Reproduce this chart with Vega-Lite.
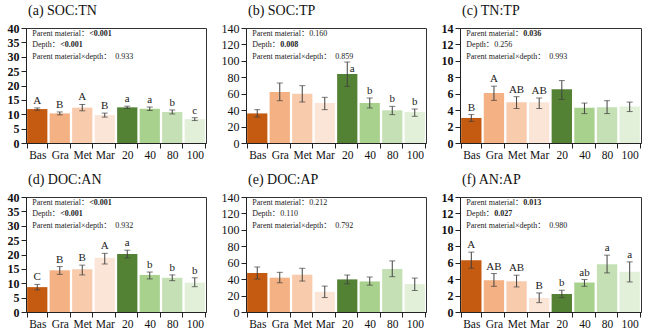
{
  "$schema": "https://vega.github.io/schema/vega-lite/v6.json",
  "background": "white",
  "padding": {"left": 6, "top": 3, "right": 5, "bottom": 5},
  "datasets": {
    "bars": [
      {"panel": "a", "group": "Bas", "mean": 11.8, "lo": 11.4, "hi": 12.2, "letter": "A"},
      {"panel": "a", "group": "Gra", "mean": 10.3, "lo": 9.8, "hi": 10.8, "letter": "B"},
      {"panel": "a", "group": "Met", "mean": 12.3, "lo": 11.2, "hi": 13.4, "letter": "A"},
      {"panel": "a", "group": "Mar", "mean": 9.7, "lo": 9.0, "hi": 10.4, "letter": "B"},
      {"panel": "a", "group": "20", "mean": 12.4, "lo": 12.0, "hi": 12.8, "letter": "a"},
      {"panel": "a", "group": "40", "mean": 11.9, "lo": 11.3, "hi": 12.5, "letter": "a"},
      {"panel": "a", "group": "80", "mean": 10.8, "lo": 10.1, "hi": 11.5, "letter": "b"},
      {"panel": "a", "group": "100", "mean": 8.3, "lo": 7.8, "hi": 8.8, "letter": "c"},
      {"panel": "b", "group": "Bas", "mean": 36, "lo": 31.6, "hi": 40.6, "letter": ""},
      {"panel": "b", "group": "Gra", "mean": 62, "lo": 51.5, "hi": 73, "letter": ""},
      {"panel": "b", "group": "Met", "mean": 60, "lo": 49.9, "hi": 69.8, "letter": ""},
      {"panel": "b", "group": "Mar", "mean": 48.7, "lo": 40.6, "hi": 55.6, "letter": ""},
      {"panel": "b", "group": "20", "mean": 84, "lo": 69, "hi": 98.6, "letter": "a"},
      {"panel": "b", "group": "40", "mean": 48.7, "lo": 42.6, "hi": 54.8, "letter": "b"},
      {"panel": "b", "group": "80", "mean": 39.8, "lo": 34.5, "hi": 44.6, "letter": "b"},
      {"panel": "b", "group": "100", "mean": 37.7, "lo": 32.5, "hi": 41.4, "letter": "b"},
      {"panel": "c", "group": "Bas", "mean": 3.05, "lo": 2.63, "hi": 3.46, "letter": "B"},
      {"panel": "c", "group": "Gra", "mean": 6.1, "lo": 5.19, "hi": 6.92, "letter": "A"},
      {"panel": "c", "group": "Met", "mean": 4.95, "lo": 4.2, "hi": 5.64, "letter": "AB"},
      {"panel": "c", "group": "Mar", "mean": 4.95, "lo": 4.2, "hi": 5.48, "letter": "AB"},
      {"panel": "c", "group": "20", "mean": 6.55, "lo": 5.3, "hi": 7.6, "letter": ""},
      {"panel": "c", "group": "40", "mean": 4.3, "lo": 3.58, "hi": 4.86, "letter": ""},
      {"panel": "c", "group": "80", "mean": 4.35, "lo": 3.58, "hi": 5.15, "letter": ""},
      {"panel": "c", "group": "100", "mean": 4.45, "lo": 3.83, "hi": 4.98, "letter": ""},
      {"panel": "d", "group": "Bas", "mean": 8.65, "lo": 7.7, "hi": 9.6, "letter": "C"},
      {"panel": "d", "group": "Gra", "mean": 14.5, "lo": 13.1, "hi": 15.8, "letter": "B"},
      {"panel": "d", "group": "Met", "mean": 14.85, "lo": 12.9, "hi": 16.3, "letter": "B"},
      {"panel": "d", "group": "Mar", "mean": 18.9, "lo": 16.7, "hi": 20.4, "letter": "A"},
      {"panel": "d", "group": "20", "mean": 20.2, "lo": 18.8, "hi": 21.5, "letter": "a"},
      {"panel": "d", "group": "40", "mean": 12.9, "lo": 11.5, "hi": 13.9, "letter": "b"},
      {"panel": "d", "group": "80", "mean": 11.9, "lo": 10.9, "hi": 12.9, "letter": "b"},
      {"panel": "d", "group": "100", "mean": 10.2, "lo": 8.8, "hi": 11.9, "letter": "b"},
      {"panel": "e", "group": "Bas", "mean": 47.5, "lo": 40.1, "hi": 54.8, "letter": ""},
      {"panel": "e", "group": "Gra", "mean": 41.8, "lo": 35.6, "hi": 48.3, "letter": ""},
      {"panel": "e", "group": "Met", "mean": 45.4, "lo": 37.7, "hi": 53.2, "letter": ""},
      {"panel": "e", "group": "Mar", "mean": 24.6, "lo": 17.6, "hi": 31.5, "letter": ""},
      {"panel": "e", "group": "20", "mean": 39.7, "lo": 34.2, "hi": 45, "letter": ""},
      {"panel": "e", "group": "40", "mean": 37.2, "lo": 32.7, "hi": 42.6, "letter": ""},
      {"panel": "e", "group": "80", "mean": 52.4, "lo": 43, "hi": 62.2, "letter": ""},
      {"panel": "e", "group": "100", "mean": 34, "lo": 26.2, "hi": 41.3, "letter": ""},
      {"panel": "f", "group": "Bas", "mean": 6.3, "lo": 5.33, "hi": 7.29, "letter": "A"},
      {"panel": "f", "group": "Gra", "mean": 3.87, "lo": 3.13, "hi": 4.68, "letter": "AB"},
      {"panel": "f", "group": "Met", "mean": 3.75, "lo": 3.05, "hi": 4.48, "letter": "AB"},
      {"panel": "f", "group": "Mar", "mean": 1.7, "lo": 1.14, "hi": 2.32, "letter": "B"},
      {"panel": "f", "group": "20", "mean": 2.2, "lo": 1.75, "hi": 2.65, "letter": "b"},
      {"panel": "f", "group": "40", "mean": 3.58, "lo": 3.13, "hi": 3.95, "letter": "ab"},
      {"panel": "f", "group": "80", "mean": 5.82, "lo": 4.76, "hi": 6.92, "letter": "a"},
      {"panel": "f", "group": "100", "mean": 4.9, "lo": 3.66, "hi": 6.1, "letter": "a"}
    ],
    "notes": [
      {"panel": "a", "line": 1, "label": "Parent material：", "value": "<0.001", "sig": true},
      {"panel": "a", "line": 2, "label": "Depth：", "value": "<0.001", "sig": true},
      {"panel": "a", "line": 3, "label": "Parent material×depth：", "value": "0.933", "sig": false},
      {"panel": "b", "line": 1, "label": "Parent material：", "value": "0.160", "sig": false},
      {"panel": "b", "line": 2, "label": "Depth：", "value": "0.008", "sig": true},
      {"panel": "b", "line": 3, "label": "Parent material×depth：", "value": "0.859", "sig": false},
      {"panel": "c", "line": 1, "label": "Parent material：", "value": "0.036", "sig": true},
      {"panel": "c", "line": 2, "label": "Depth：", "value": "0.256", "sig": false},
      {"panel": "c", "line": 3, "label": "Parent material×depth：", "value": "0.993", "sig": false},
      {"panel": "d", "line": 1, "label": "Parent material：", "value": "<0.001", "sig": true},
      {"panel": "d", "line": 2, "label": "Depth：", "value": "<0.001", "sig": true},
      {"panel": "d", "line": 3, "label": "Parent material×depth：", "value": "0.932", "sig": false},
      {"panel": "e", "line": 1, "label": "Parent material：", "value": "0.212", "sig": false},
      {"panel": "e", "line": 2, "label": "Depth：", "value": "0.110", "sig": false},
      {"panel": "e", "line": 3, "label": "Parent material×depth：", "value": "0.792", "sig": false},
      {"panel": "f", "line": 1, "label": "Parent material：", "value": "0.013", "sig": true},
      {"panel": "f", "line": 2, "label": "Depth：", "value": "0.027", "sig": true},
      {"panel": "f", "line": 3, "label": "Parent material×depth：", "value": "0.980", "sig": false}
    ]
  },
  "columns": 3,
  "align": "each",
  "spacing": {"row": 11, "column": 13},
  "concat": [
    {
      "width": 180, "height": 115, "title": "(a) SOC:TN",
      "resolve": {"scale": {"y": "independent"}},
      "layer": [
        {
          "data": {"name": "bars"},
          "transform": [{"filter": "datum.panel === 'a'"}],
          "encoding": {"x": {"field": "group", "type": "nominal", "title": null, "scale": {"domain": ["Bas", "Gra", "Met", "Mar", "20", "40", "80", "100"], "paddingInner": 0.1, "paddingOuter": 0.05}}},
          "layer": [
            {"mark": {"type": "bar"}, "encoding": {"y": {"field": "mean", "type": "quantitative", "title": null, "scale": {"domain": [0, 40], "nice": false}, "axis": {"tickCount": 8}}, "color": {"field": "group", "type": "nominal", "scale": {"domain": ["Bas", "Gra", "Met", "Mar", "20", "40", "80", "100"], "range": ["#C55A11", "#F4B183", "#F8CBAD", "#FBE5D6", "#548235", "#A9D18E", "#C5E0B4", "#E2F0D9"]}, "legend": null}}},
            {"mark": {"type": "errorbar", "ticks": {"size": 6, "color": "#404040"}, "rule": {"color": "#404040"}}, "encoding": {"y": {"field": "lo", "type": "quantitative", "title": null}, "y2": {"field": "hi"}}},
            {"mark": {"type": "text", "dy": -7, "font": "Liberation Serif", "fontSize": 11, "fill": "#222222"}, "encoding": {"y": {"field": "hi", "type": "quantitative", "title": null}, "text": {"field": "letter"}}}
          ]
        },
        {
          "data": {"name": "notes"},
          "transform": [{"filter": "datum.panel === 'a'"}],
          "encoding": {"x": {"datum": "Bas", "type": "nominal"}, "y": {"field": "line", "type": "quantitative", "scale": {"domain": [0.5, 10.5], "reverse": true, "nice": false, "zero": false}, "axis": null}},
          "layer": [
            {"mark": {"type": "text", "align": "left", "dx": -5, "font": "Liberation Serif, Noto Sans CJK SC", "fontSize": 8, "fill": "#222222"}, "encoding": {"text": {"field": "label"}}},
            {"transform": [{"filter": "datum.line === 1"}], "mark": {"type": "text", "align": "left", "dx": 52, "font": "Liberation Serif", "fontSize": 8, "fill": "#222222", "fontWeight": {"expr": "datum.sig ? 'bold' : 'normal'"}}, "encoding": {"text": {"field": "value"}}},
            {"transform": [{"filter": "datum.line === 2"}], "mark": {"type": "text", "align": "left", "dx": 23, "font": "Liberation Serif", "fontSize": 8, "fill": "#222222", "fontWeight": {"expr": "datum.sig ? 'bold' : 'normal'"}}, "encoding": {"text": {"field": "value"}}},
            {"transform": [{"filter": "datum.line === 3"}], "mark": {"type": "text", "align": "left", "dx": 78, "font": "Liberation Serif", "fontSize": 8, "fill": "#222222", "fontWeight": {"expr": "datum.sig ? 'bold' : 'normal'"}}, "encoding": {"text": {"field": "value"}}}
          ]
        }
      ]
    },
    {
      "width": 180, "height": 115, "title": "(b) SOC:TP",
      "resolve": {"scale": {"y": "independent"}},
      "layer": [
        {
          "data": {"name": "bars"},
          "transform": [{"filter": "datum.panel === 'b'"}],
          "encoding": {"x": {"field": "group", "type": "nominal", "title": null, "scale": {"domain": ["Bas", "Gra", "Met", "Mar", "20", "40", "80", "100"], "paddingInner": 0.1, "paddingOuter": 0.05}}},
          "layer": [
            {"mark": {"type": "bar"}, "encoding": {"y": {"field": "mean", "type": "quantitative", "title": null, "scale": {"domain": [0, 140], "nice": false}, "axis": {"tickCount": 8, "labelFontWeight": "normal"}}, "color": {"field": "group", "type": "nominal", "legend": null}}},
            {"mark": {"type": "errorbar", "ticks": {"size": 6, "color": "#404040"}, "rule": {"color": "#404040"}}, "encoding": {"y": {"field": "lo", "type": "quantitative", "title": null}, "y2": {"field": "hi"}}},
            {"transform": [{"filter": "datum.group !== '20'"}], "mark": {"type": "text", "dy": -7, "font": "Liberation Serif", "fontSize": 11, "fill": "#222222"}, "encoding": {"y": {"field": "hi", "type": "quantitative", "title": null}, "text": {"field": "letter"}}},
            {"transform": [{"filter": "datum.group === '20'"}], "mark": {"type": "text", "dx": 5, "dy": 7, "font": "Liberation Serif", "fontSize": 11, "fill": "#222222"}, "encoding": {"y": {"field": "hi", "type": "quantitative", "title": null}, "text": {"field": "letter"}}}
          ]
        },
        {
          "data": {"name": "notes"},
          "transform": [{"filter": "datum.panel === 'b'"}],
          "encoding": {"x": {"datum": "Bas", "type": "nominal"}, "y": {"field": "line", "type": "quantitative", "scale": {"domain": [0.5, 10.5], "reverse": true, "nice": false, "zero": false}, "axis": null}},
          "layer": [
            {"mark": {"type": "text", "align": "left", "dx": -5, "font": "Liberation Serif, Noto Sans CJK SC", "fontSize": 8, "fill": "#222222"}, "encoding": {"text": {"field": "label"}}},
            {"transform": [{"filter": "datum.line === 1"}], "mark": {"type": "text", "align": "left", "dx": 52, "font": "Liberation Serif", "fontSize": 8, "fill": "#222222", "fontWeight": {"expr": "datum.sig ? 'bold' : 'normal'"}}, "encoding": {"text": {"field": "value"}}},
            {"transform": [{"filter": "datum.line === 2"}], "mark": {"type": "text", "align": "left", "dx": 23, "font": "Liberation Serif", "fontSize": 8, "fill": "#222222", "fontWeight": {"expr": "datum.sig ? 'bold' : 'normal'"}}, "encoding": {"text": {"field": "value"}}},
            {"transform": [{"filter": "datum.line === 3"}], "mark": {"type": "text", "align": "left", "dx": 78, "font": "Liberation Serif", "fontSize": 8, "fill": "#222222", "fontWeight": {"expr": "datum.sig ? 'bold' : 'normal'"}}, "encoding": {"text": {"field": "value"}}}
          ]
        }
      ]
    },
    {
      "width": 181, "height": 115, "title": "(c) TN:TP",
      "resolve": {"scale": {"y": "independent"}},
      "layer": [
        {
          "data": {"name": "bars"},
          "transform": [{"filter": "datum.panel === 'c'"}],
          "encoding": {"x": {"field": "group", "type": "nominal", "title": null, "scale": {"domain": ["Bas", "Gra", "Met", "Mar", "20", "40", "80", "100"], "paddingInner": 0.1, "paddingOuter": 0.05}}},
          "layer": [
            {"mark": {"type": "bar"}, "encoding": {"y": {"field": "mean", "type": "quantitative", "title": null, "scale": {"domain": [0, 14], "nice": false}, "axis": {"tickCount": 8}}, "color": {"field": "group", "type": "nominal", "legend": null}}},
            {"mark": {"type": "errorbar", "ticks": {"size": 6, "color": "#404040"}, "rule": {"color": "#404040"}}, "encoding": {"y": {"field": "lo", "type": "quantitative", "title": null}, "y2": {"field": "hi"}}},
            {"mark": {"type": "text", "dy": -7, "font": "Liberation Serif", "fontSize": 11, "fill": "#222222"}, "encoding": {"y": {"field": "hi", "type": "quantitative", "title": null}, "text": {"field": "letter"}}}
          ]
        },
        {
          "data": {"name": "notes"},
          "transform": [{"filter": "datum.panel === 'c'"}],
          "encoding": {"x": {"datum": "Bas", "type": "nominal"}, "y": {"field": "line", "type": "quantitative", "scale": {"domain": [0.5, 10.5], "reverse": true, "nice": false, "zero": false}, "axis": null}},
          "layer": [
            {"mark": {"type": "text", "align": "left", "dx": -5, "font": "Liberation Serif, Noto Sans CJK SC", "fontSize": 8, "fill": "#222222"}, "encoding": {"text": {"field": "label"}}},
            {"transform": [{"filter": "datum.line === 1"}], "mark": {"type": "text", "align": "left", "dx": 52, "font": "Liberation Serif", "fontSize": 8, "fill": "#222222", "fontWeight": {"expr": "datum.sig ? 'bold' : 'normal'"}}, "encoding": {"text": {"field": "value"}}},
            {"transform": [{"filter": "datum.line === 2"}], "mark": {"type": "text", "align": "left", "dx": 23, "font": "Liberation Serif", "fontSize": 8, "fill": "#222222", "fontWeight": {"expr": "datum.sig ? 'bold' : 'normal'"}}, "encoding": {"text": {"field": "value"}}},
            {"transform": [{"filter": "datum.line === 3"}], "mark": {"type": "text", "align": "left", "dx": 78, "font": "Liberation Serif", "fontSize": 8, "fill": "#222222", "fontWeight": {"expr": "datum.sig ? 'bold' : 'normal'"}}, "encoding": {"text": {"field": "value"}}}
          ]
        }
      ]
    },
    {
      "width": 180, "height": 115, "title": "(d) DOC:AN",
      "resolve": {"scale": {"y": "independent"}},
      "layer": [
        {
          "data": {"name": "bars"},
          "transform": [{"filter": "datum.panel === 'd'"}],
          "encoding": {"x": {"field": "group", "type": "nominal", "title": null, "scale": {"domain": ["Bas", "Gra", "Met", "Mar", "20", "40", "80", "100"], "paddingInner": 0.1, "paddingOuter": 0.05}}},
          "layer": [
            {"mark": {"type": "bar"}, "encoding": {"y": {"field": "mean", "type": "quantitative", "title": null, "scale": {"domain": [0, 40], "nice": false}, "axis": {"tickCount": 8}}, "color": {"field": "group", "type": "nominal", "legend": null}}},
            {"mark": {"type": "errorbar", "ticks": {"size": 6, "color": "#404040"}, "rule": {"color": "#404040"}}, "encoding": {"y": {"field": "lo", "type": "quantitative", "title": null}, "y2": {"field": "hi"}}},
            {"mark": {"type": "text", "dy": -7, "font": "Liberation Serif", "fontSize": 11, "fill": "#222222"}, "encoding": {"y": {"field": "hi", "type": "quantitative", "title": null}, "text": {"field": "letter"}}}
          ]
        },
        {
          "data": {"name": "notes"},
          "transform": [{"filter": "datum.panel === 'd'"}],
          "encoding": {"x": {"datum": "Bas", "type": "nominal"}, "y": {"field": "line", "type": "quantitative", "scale": {"domain": [0.5, 10.5], "reverse": true, "nice": false, "zero": false}, "axis": null}},
          "layer": [
            {"mark": {"type": "text", "align": "left", "dx": -5, "font": "Liberation Serif, Noto Sans CJK SC", "fontSize": 8, "fill": "#222222"}, "encoding": {"text": {"field": "label"}}},
            {"transform": [{"filter": "datum.line === 1"}], "mark": {"type": "text", "align": "left", "dx": 52, "font": "Liberation Serif", "fontSize": 8, "fill": "#222222", "fontWeight": {"expr": "datum.sig ? 'bold' : 'normal'"}}, "encoding": {"text": {"field": "value"}}},
            {"transform": [{"filter": "datum.line === 2"}], "mark": {"type": "text", "align": "left", "dx": 23, "font": "Liberation Serif", "fontSize": 8, "fill": "#222222", "fontWeight": {"expr": "datum.sig ? 'bold' : 'normal'"}}, "encoding": {"text": {"field": "value"}}},
            {"transform": [{"filter": "datum.line === 3"}], "mark": {"type": "text", "align": "left", "dx": 78, "font": "Liberation Serif", "fontSize": 8, "fill": "#222222", "fontWeight": {"expr": "datum.sig ? 'bold' : 'normal'"}}, "encoding": {"text": {"field": "value"}}}
          ]
        }
      ]
    },
    {
      "width": 180, "height": 115, "title": "(e) DOC:AP",
      "resolve": {"scale": {"y": "independent"}},
      "layer": [
        {
          "data": {"name": "bars"},
          "transform": [{"filter": "datum.panel === 'e'"}],
          "encoding": {"x": {"field": "group", "type": "nominal", "title": null, "scale": {"domain": ["Bas", "Gra", "Met", "Mar", "20", "40", "80", "100"], "paddingInner": 0.1, "paddingOuter": 0.05}}},
          "layer": [
            {"mark": {"type": "bar"}, "encoding": {"y": {"field": "mean", "type": "quantitative", "title": null, "scale": {"domain": [0, 140], "nice": false}, "axis": {"tickCount": 8, "labelFontWeight": "normal"}}, "color": {"field": "group", "type": "nominal", "legend": null}}},
            {"mark": {"type": "errorbar", "ticks": {"size": 6, "color": "#404040"}, "rule": {"color": "#404040"}}, "encoding": {"y": {"field": "lo", "type": "quantitative", "title": null}, "y2": {"field": "hi"}}},
            {"mark": {"type": "text", "dy": -7, "font": "Liberation Serif", "fontSize": 11, "fill": "#222222"}, "encoding": {"y": {"field": "hi", "type": "quantitative", "title": null}, "text": {"field": "letter"}}}
          ]
        },
        {
          "data": {"name": "notes"},
          "transform": [{"filter": "datum.panel === 'e'"}],
          "encoding": {"x": {"datum": "Bas", "type": "nominal"}, "y": {"field": "line", "type": "quantitative", "scale": {"domain": [0.5, 10.5], "reverse": true, "nice": false, "zero": false}, "axis": null}},
          "layer": [
            {"mark": {"type": "text", "align": "left", "dx": -5, "font": "Liberation Serif, Noto Sans CJK SC", "fontSize": 8, "fill": "#222222"}, "encoding": {"text": {"field": "label"}}},
            {"transform": [{"filter": "datum.line === 1"}], "mark": {"type": "text", "align": "left", "dx": 52, "font": "Liberation Serif", "fontSize": 8, "fill": "#222222", "fontWeight": {"expr": "datum.sig ? 'bold' : 'normal'"}}, "encoding": {"text": {"field": "value"}}},
            {"transform": [{"filter": "datum.line === 2"}], "mark": {"type": "text", "align": "left", "dx": 23, "font": "Liberation Serif", "fontSize": 8, "fill": "#222222", "fontWeight": {"expr": "datum.sig ? 'bold' : 'normal'"}}, "encoding": {"text": {"field": "value"}}},
            {"transform": [{"filter": "datum.line === 3"}], "mark": {"type": "text", "align": "left", "dx": 78, "font": "Liberation Serif", "fontSize": 8, "fill": "#222222", "fontWeight": {"expr": "datum.sig ? 'bold' : 'normal'"}}, "encoding": {"text": {"field": "value"}}}
          ]
        }
      ]
    },
    {
      "width": 181, "height": 115, "title": "(f) AN:AP",
      "resolve": {"scale": {"y": "independent"}},
      "layer": [
        {
          "data": {"name": "bars"},
          "transform": [{"filter": "datum.panel === 'f'"}],
          "encoding": {"x": {"field": "group", "type": "nominal", "title": null, "scale": {"domain": ["Bas", "Gra", "Met", "Mar", "20", "40", "80", "100"], "paddingInner": 0.1, "paddingOuter": 0.05}}},
          "layer": [
            {"mark": {"type": "bar"}, "encoding": {"y": {"field": "mean", "type": "quantitative", "title": null, "scale": {"domain": [0, 14], "nice": false}, "axis": {"tickCount": 8}}, "color": {"field": "group", "type": "nominal", "legend": null}}},
            {"mark": {"type": "errorbar", "ticks": {"size": 6, "color": "#404040"}, "rule": {"color": "#404040"}}, "encoding": {"y": {"field": "lo", "type": "quantitative", "title": null}, "y2": {"field": "hi"}}},
            {"mark": {"type": "text", "dy": -7, "font": "Liberation Serif", "fontSize": 11, "fill": "#222222"}, "encoding": {"y": {"field": "hi", "type": "quantitative", "title": null}, "text": {"field": "letter"}}}
          ]
        },
        {
          "data": {"name": "notes"},
          "transform": [{"filter": "datum.panel === 'f'"}],
          "encoding": {"x": {"datum": "Bas", "type": "nominal"}, "y": {"field": "line", "type": "quantitative", "scale": {"domain": [0.5, 10.5], "reverse": true, "nice": false, "zero": false}, "axis": null}},
          "layer": [
            {"mark": {"type": "text", "align": "left", "dx": -5, "font": "Liberation Serif, Noto Sans CJK SC", "fontSize": 8, "fill": "#222222"}, "encoding": {"text": {"field": "label"}}},
            {"transform": [{"filter": "datum.line === 1"}], "mark": {"type": "text", "align": "left", "dx": 52, "font": "Liberation Serif", "fontSize": 8, "fill": "#222222", "fontWeight": {"expr": "datum.sig ? 'bold' : 'normal'"}}, "encoding": {"text": {"field": "value"}}},
            {"transform": [{"filter": "datum.line === 2"}], "mark": {"type": "text", "align": "left", "dx": 23, "font": "Liberation Serif", "fontSize": 8, "fill": "#222222", "fontWeight": {"expr": "datum.sig ? 'bold' : 'normal'"}}, "encoding": {"text": {"field": "value"}}},
            {"transform": [{"filter": "datum.line === 3"}], "mark": {"type": "text", "align": "left", "dx": 78, "font": "Liberation Serif", "fontSize": 8, "fill": "#222222", "fontWeight": {"expr": "datum.sig ? 'bold' : 'normal'"}}, "encoding": {"text": {"field": "value"}}}
          ]
        }
      ]
    }
  ],
  "config": {
    "view": {"stroke": "#333333", "strokeWidth": 1},
    "axis": {"title": null, "grid": false, "domainColor": "#222222", "tickColor": "#222222", "labelColor": "#111111", "labelFont": "Liberation Serif", "tickSize": 5, "labelPadding": 2},
    "axisX": {"labelAngle": 0, "tickBand": "extent", "labelFontSize": 11.5, "labelFontWeight": "normal", "labelPadding": 1},
    "axisY": {"labelFontSize": 12, "labelFontWeight": "bold"},
    "title": {"font": "Liberation Serif", "fontSize": 14, "fontWeight": "normal", "anchor": "start", "frame": "group", "offset": 4, "dx": 2, "color": "#111111"}
  }
}
